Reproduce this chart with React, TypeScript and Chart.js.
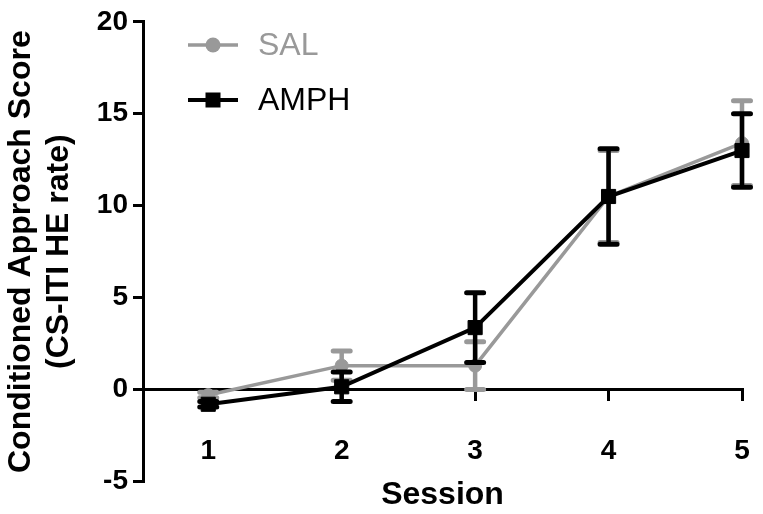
import React, { useEffect, useRef } from 'react';
import { Chart, registerables } from 'chart.js';

Chart.register(...registerables);

// ---- data ----
const sessions = [1, 2, 3, 4, 5];
const seriesLabels = ['SAL', 'AMPH'];
const salMean = [-0.3, 1.3, 1.3, 10.5, 13.4];
const salSem = [0.15, 0.8, 1.3, 2.5, 2.3];
const amphMean = [-0.8, 0.15, 3.37, 10.5, 13.0];
const amphSem = [0.15, 0.8, 1.9, 2.6, 2.0];
const yTickValues = [-5, 0, 5, 10, 15, 20];
const xTitle = 'Session';
const yTitle = ['Conditioned Approach Score', '(CS-ITI HE rate)'];

const GREY = '#999999';
const BLACK = '#000000';
const FONT = '"Liberation Sans", Arial, Helvetica, sans-serif';

const errorSets = [salSem, amphSem];

const errorBarPlugin = {
  id: 'errorBars',
  beforeDatasetDraw(chart: any, args: any) {
    const i = args.index;
    const errs = errorSets[i];
    if (!errs) return;
    const ds = chart.data.datasets[i];
    const meta = args.meta;
    const yScale = chart.scales.y;
    const ctx = chart.ctx;
    ctx.save();
    ctx.strokeStyle = ds.borderColor;
    meta.data.forEach((pt: any, j: number) => {
      const v = ds.data[j].y;
      const top = yScale.getPixelForValue(v + errs[j]);
      const bot = yScale.getPixelForValue(v - errs[j]);
      ctx.lineCap = 'butt';
      ctx.lineWidth = 4.5;
      ctx.beginPath();
      ctx.moveTo(pt.x, top);
      ctx.lineTo(pt.x, bot);
      ctx.stroke();
      ctx.lineCap = 'round';
      ctx.lineWidth = 5;
      ctx.beginPath();
      ctx.moveTo(pt.x - 8.5, top);
      ctx.lineTo(pt.x + 8.5, top);
      ctx.moveTo(pt.x - 8.5, bot);
      ctx.lineTo(pt.x + 8.5, bot);
      ctx.stroke();
    });
    ctx.restore();
  },
};

const lineLegendPlugin = {
  id: 'lineLegend',
  afterDraw(chart: any) {
    const ctx = chart.ctx;
    const left = chart.chartArea.left;
    chart.data.datasets.forEach((ds: any, i: number) => {
      const cy = 45 + i * 55;
      const x0 = left + 45;
      const x1 = left + 95;
      const cx = (x0 + x1) / 2;
      ctx.save();
      ctx.strokeStyle = ds.borderColor;
      ctx.lineWidth = ds.borderWidth;
      ctx.beginPath();
      ctx.moveTo(x0, cy);
      ctx.lineTo(x1, cy);
      ctx.stroke();
      ctx.fillStyle = ds.pointBackgroundColor;
      if (ds.pointStyle === 'rect') {
        ctx.fillRect(cx - 7.5, cy - 7.5, 15, 15);
      } else {
        ctx.beginPath();
        ctx.arc(cx, cy, 7.5, 0, Math.PI * 2);
        ctx.fill();
      }
      ctx.fillStyle = ds.borderColor;
      ctx.font = `32px ${FONT}`;
      ctx.textAlign = 'left';
      ctx.textBaseline = 'middle';
      ctx.fillText(ds.label, left + 115, cy + 1);
      ctx.restore();
    });
  },
};

export default function App() {
  const ref = useRef<HTMLCanvasElement | null>(null);

  useEffect(() => {
    if (!ref.current) return;
    Chart.defaults.font.family = FONT;
    const chart = new Chart(ref.current, {
      type: 'line',
      data: {
        datasets: [
          {
            label: seriesLabels[0],
            data: sessions.map((x, i) => ({ x, y: salMean[i] })),
            borderColor: GREY,
            backgroundColor: GREY,
            pointBackgroundColor: GREY,
            pointBorderColor: GREY,
            borderWidth: 3.5,
            pointStyle: 'circle',
            pointRadius: 6.5,
            pointBorderWidth: 1,
            tension: 0,
            order: 2,
            clip: false as any,
          },
          {
            label: seriesLabels[1],
            data: sessions.map((x, i) => ({ x, y: amphMean[i] })),
            borderColor: BLACK,
            backgroundColor: BLACK,
            pointBackgroundColor: BLACK,
            pointBorderColor: BLACK,
            borderWidth: 4,
            pointStyle: 'rect',
            pointRadius: 10,
            pointBorderWidth: 1,
            tension: 0,
            order: 1,
            clip: false as any,
          },
        ],
      },
      options: {
        animation: false,
        responsive: false,
        events: [],
        layout: { padding: { top: 18.5, right: 21, bottom: 0, left: 0 } },
        plugins: {
          legend: { display: false },
          tooltip: { enabled: false },
        },
        scales: {
          x: {
            type: 'linear',
            position: { y: 0 } as any,
            min: 0.511,
            max: 5,
            afterBuildTicks: (s: any) => {
              s.ticks = sessions.map((v) => ({ value: v }));
            },
            afterFit: (s: any) => {
              s.paddingLeft = 0;
              s.paddingRight = 0;
            },
            ticks: {
              color: BLACK,
              padding: 35,
              maxRotation: 0,
              font: { size: 28, weight: 'bold' },
              callback: (v: any) => String(v),
            },
            grid: {
              display: true,
              drawOnChartArea: false,
              drawTicks: true,
              tickLength: 10,
              color: BLACK,
              lineWidth: 3,
            },
            border: { display: true, color: BLACK, width: 3 },
          },
          x2: {
            type: 'linear',
            position: 'bottom',
            min: 0.511,
            max: 5,
            ticks: { display: false },
            grid: { display: false },
            border: { display: false },
            title: {
              display: true,
              text: xTitle,
              color: BLACK,
              font: { size: 32, weight: 'bold', lineHeight: 1 },
              padding: { top: 0, bottom: 3 },
            },
            afterFit: (s: any) => {
              s.height = 32.5;
              s.paddingLeft = 0;
              s.paddingRight = 0;
            },
          },
          y: {
            type: 'linear',
            position: 'left',
            min: -5,
            max: 20,
            afterBuildTicks: (s: any) => {
              s.ticks = yTickValues.map((v) => ({ value: v }));
            },
            ticks: {
              color: BLACK,
              padding: 5,
              font: { size: 28, weight: 'bold' },
            },
            grid: {
              display: true,
              drawOnChartArea: false,
              drawTicks: true,
              tickLength: 10,
              color: BLACK,
              lineWidth: 3,
            },
            border: { display: true, color: BLACK, width: 3 },
            title: {
              display: true,
              text: yTitle,
              color: BLACK,
              font: { size: 32, weight: 'bold' },
              padding: { top: 1.5, bottom: 0 },
            },
            afterFit: (s: any) => {
              s.width = 143;
            },
          },
        },
      } as any,
      plugins: [errorBarPlugin, lineLegendPlugin],
    });
    return () => chart.destroy();
  }, []);

  return (
    <div style={{ position: 'fixed', left: 0, top: 0, width: 763, height: 514, background: '#fff' }}>
      <canvas ref={ref} width={763} height={514} style={{ display: 'block' }} />
    </div>
  );
}
